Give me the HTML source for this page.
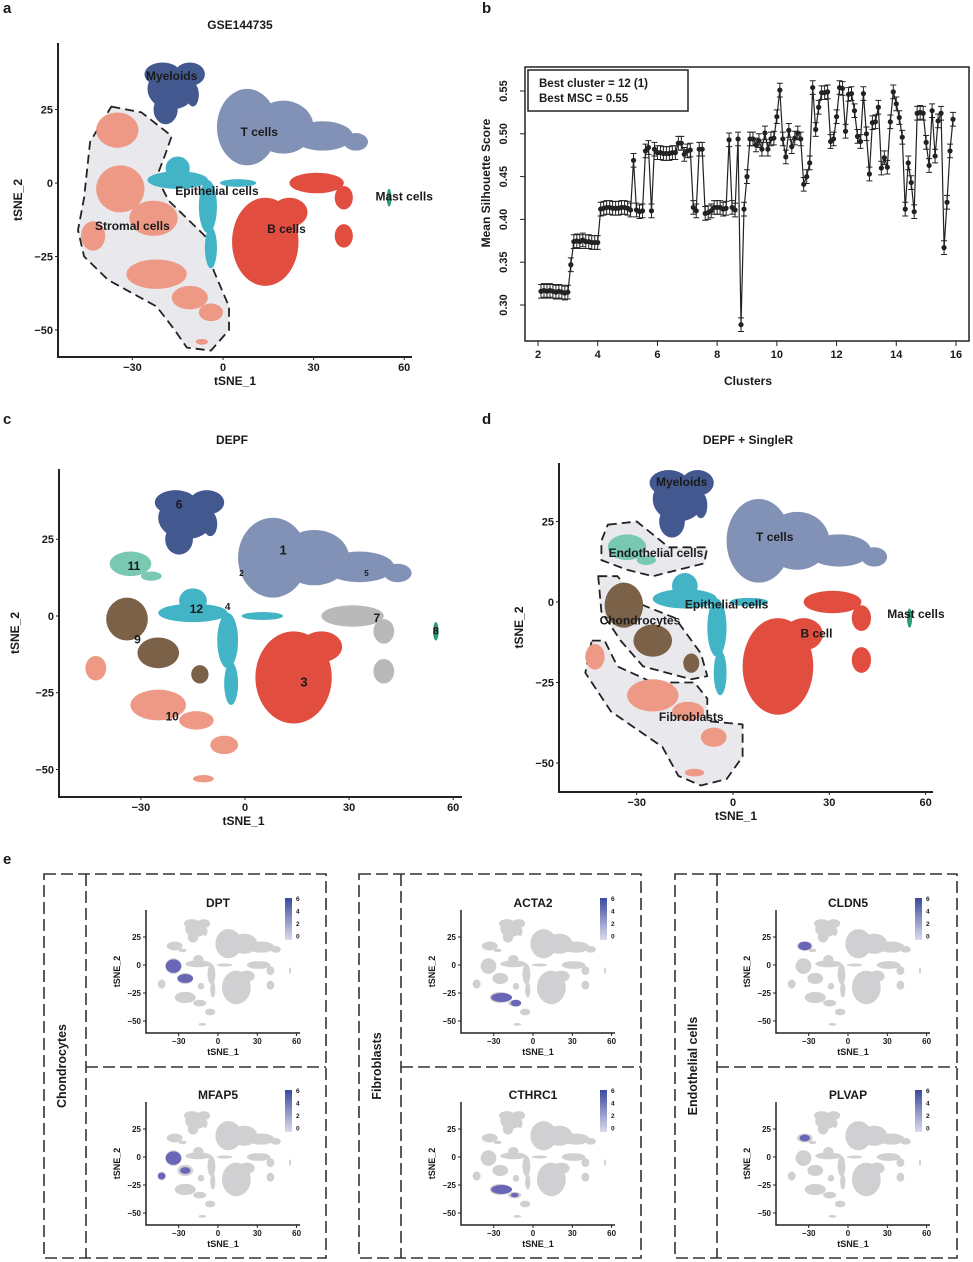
<!DOCTYPE html>
<html><head><meta charset="utf-8"><style>
html,body{margin:0;padding:0;background:#fff}
svg{display:block;font-family:"Liberation Sans",Arial,sans-serif;font-weight:bold}
</style></head><body>
<svg id="fig" width="973" height="1262" viewBox="0 0 973 1262" xmlns="http://www.w3.org/2000/svg"></svg>
<script>
// ---------- Panel b data ----------
const bClusters = [];
for (let i = 21; i <= 159; i++) bClusters.push(i / 10);
const bScores = [
0.316,0.317,0.316,0.317,0.316,0.315,0.316,0.315,0.314,0.315,0.347,0.374,0.375,0.374,0.376,0.374,0.374,0.373,0.373,0.373,
0.412,0.413,0.414,0.414,0.413,0.413,0.413,0.414,0.414,0.413,0.411,0.469,0.411,0.409,0.410,0.480,0.484,0.410,0.482,0.478,
0.478,0.477,0.477,0.477,0.478,0.478,0.489,0.489,0.476,0.480,0.481,0.414,0.410,0.482,0.482,0.407,0.408,0.410,0.414,0.414,
0.414,0.412,0.413,0.493,0.414,0.411,0.494,0.277,0.412,0.450,0.494,0.494,0.487,0.492,0.482,0.501,0.482,0.494,0.495,0.520,
0.551,0.494,0.473,0.504,0.485,0.495,0.501,0.494,0.441,0.450,0.466,0.554,0.505,0.531,0.548,0.548,0.549,0.491,0.494,0.520,
0.554,0.553,0.503,0.546,0.547,0.527,0.497,0.491,0.547,0.500,0.453,0.513,0.514,0.531,0.460,0.472,0.461,0.514,0.549,0.535,
0.519,0.496,0.412,0.466,0.443,0.409,0.524,0.525,0.524,0.490,0.463,0.527,0.474,0.515,0.524,0.367,0.420,0.480,0.517];
const bXTicks = [2,4,6,8,10,12,14,16];
const bYTicks = [0.30,0.35,0.40,0.45,0.50,0.55];

// ---------- tSNE cluster shapes (ellipses in tSNE units: cx, cy, rx, ry) ----------
const myeloidBlobs = [[-17,32,8,7],[-20,37,6,4],[-11,37,5,4],[-19,25,4,5],[-10,30,2,4]];
const tcellBlobs = [[8,19,10,13],[20,19,10,9],[33,16,10,5],[44,14,4,3]];
const epiBlobs = [[-15,1,10,3],[-15,5,4,4],[-5,-8,3,9],[-4,-22,2,7],[5,0,6,1.3]];
const bMainBlobs = [[14,-20,11,15],[22,-10,6,5]];
const bTopBlobs = [[31,0,9,3.5],[40,-5,3,4]];
const bSmallBlobs = [[40,-18,3,4]];
const mastBlobs = [[55,-5,0.8,3]];
const endoBlobs = [[-33,17,6,4],[-27,13,3,1.5]];
const chondroBlobs = [[-34,-1,6,7],[-25,-12,6,5],[-13,-19,2.5,3]];
const fibroBlobs = [[-43,-17,3,4],[-25,-29,8,5],[-14,-34,5,3],[-6,-42,4,3],[-12,-53,3,1.2]];
const stromalBlobsA = [[-35,18,7,6],[-34,-2,8,8],[-23,-12,8,6],[-43,-18,4,5],[-22,-31,10,5],[-11,-39,6,4],[-4,-44,4,3],[-7,-54,2,1]];

const COL = {my:"#42588f",t:"#8291b6",epi:"#43b4c6",b:"#e14d3e",mast:"#2c9b7a",str:"#ee9985",endo:"#79c9b2",ch:"#7b6148",gray7:"#b9b9b9",hull:"#e9e9ed"};

const svg = document.getElementById('fig');
const NS = "http://www.w3.org/2000/svg";
function mk(tag, attrs, parent){ const e=document.createElementNS(NS,tag); for(const k in attrs) e.setAttribute(k,attrs[k]); (parent||svg).appendChild(e); return e; }
function txt(x,y,s,size,parent,extra){ const e=mk('text',Object.assign({x:x,y:y,'font-size':size,'text-anchor':'middle',fill:'#1a1a1a'},extra||{}),parent); e.textContent=s; return e; }

function panelLetter(x,y,s){ const t=txt(x,y,s,15,svg,{'text-anchor':'start'});
  
   }

function tsneAxes(g, P, opt){
  const sx=v=>P.x0+v*P.kx, sy=v=>P.y0-v*P.ky;
  const ax=mk('path',{d:`M${P.left},${P.top}V${P.bottom}H${P.right}`,fill:'none',stroke:'#222','stroke-width':opt.sw||2},g);
  
  
  [-30,0,30,60].forEach(v=>{ mk('line',{x1:sx(v),x2:sx(v),y1:P.bottom,y2:P.bottom+3,stroke:'#222'},g);
    const t=txt(sx(v),P.bottom+opt.fs+3,v===-30?'\u221230':String(v),opt.fs,g);
    
     });
  [25,0,-25,-50].forEach(v=>{ mk('line',{x1:P.left-3,x2:P.left,y1:sy(v),y2:sy(v),stroke:'#222'},g);
    const t=txt(P.left-5,sy(v)+opt.fs*0.35,v<0?'\u2212'+(-v):String(v),opt.fs,g,{'text-anchor':'end'});
    
     });
  const xt=txt((P.left+P.right)/2-opt.xoff,P.bottom+opt.fs*2+6,'tSNE_1',opt.fs+1,g);
  
  
  const yx=P.left-opt.ylab, yy=(P.top+P.bottom)/2;
  const yt=txt(yx,yy,'tSNE_2',opt.fs+1,g,{transform:`rotate(-90 ${yx} ${yy})`});
  
  
}
function blobs(g,P,list,color,name){
  const grp=mk('g',{fill:color},g);
  
  
  list.forEach(b=>{ mk('ellipse',{cx:P.x0+b[0]*P.kx,cy:P.y0-b[1]*P.ky,rx:b[2]*P.kx,ry:b[3]*P.ky},grp); });
}
function hull(g,P,pts,name){
  const d='M'+pts.map(p=>(P.x0+p[0]*P.kx).toFixed(1)+','+(P.y0-p[1]*P.ky).toFixed(1)).join('L')+'Z';
  const h=mk('path',{d:d,fill:COL.hull,stroke:'#222','stroke-width':1.8,'stroke-dasharray':'9,5','stroke-linejoin':'round'},g);
  
  
}
function label(g,P,x,y,s,size,name){ const t=txt(P.x0+x*P.kx,P.y0-y*P.ky,s,size||12,g);   }

// ---------- Panel a ----------
panelLetter(3,13,'a');
(function(){
  const g=mk('g',{});  
  const P={left:58,top:43,bottom:357,right:412,x0:223,kx:3.02,y0:183,ky:2.94};
  const tt=txt(240,29,'GSE144735',12,g);  
  hull(g,P,[[-37,26],[-27,24],[-17,16],[-19,10],[-22,2],[-18,-6],[-6,-18],[-3,-30],[2,-42],[2,-50],[-4,-57],[-12,-56],[-16,-50],[-22,-42],[-38,-33],[-46,-25],[-48,-16],[-46,-5],[-44,14]],'stromal-hull');
  blobs(g,P,stromalBlobsA,COL.str,'stromal-cells-cluster');
  blobs(g,P,myeloidBlobs,COL.my,'myeloids-cluster');
  blobs(g,P,tcellBlobs,COL.t,'t-cells-cluster');
  blobs(g,P,epiBlobs,COL.epi,'epithelial-cluster');
  blobs(g,P,bMainBlobs.concat(bTopBlobs,bSmallBlobs),COL.b,'b-cells-cluster');
  blobs(g,P,mastBlobs,COL.mast,'mast-cells-cluster');
  tsneAxes(g,P,{fs:11,xoff:0,ylab:36});
  label(g,P,-17,35,'Myeloids',12,'label-myeloids');
  label(g,P,12,16,'T cells',12,'label-t-cells');
  label(g,P,-2,-4,'Epithelial cells',12,'label-epithelial');
  label(g,P,60,-6,'Mast cells',12,'label-mast');
  label(g,P,-30,-16,'Stromal cells',12,'label-stromal');
  label(g,P,21,-17,'B cells',12,'label-b-cells');
})();

// ---------- Panel b ----------
panelLetter(482,13,'b');
(function(){
  const g=mk('g',{});  
  const L=525,T=67,R=969,B=341;
  const sx=v=>538+(v-2)*(956-538)/14, sy=v=>305-(v-0.30)*(305-91)/0.25;
  const fr=mk('rect',{x:L,y:T,width:R-L,height:B-T,fill:'none',stroke:'#222','stroke-width':1.5},g);
   
  bXTicks.forEach(v=>{ mk('line',{x1:sx(v),x2:sx(v),y1:B,y2:B+5,stroke:'#222'},g);
    const t=txt(sx(v),B+17,String(v),11,g);   });
  bYTicks.forEach(v=>{ mk('line',{x1:L-5,x2:L,y1:sy(v),y2:sy(v),stroke:'#222'},g);
    const x=507,y=sy(v);
    const t=txt(x,y,v.toFixed(2),11,g,{transform:`rotate(-90 ${x} ${y})`});   });
  const xt=txt(748,385,'Clusters',12,g);  
  const yt=txt(490,183,'Mean Silhouette Score',12,g,{transform:'rotate(-90 490 183)'});  
  const ERR=0.008;
  const pts=bClusters.map((c,i)=>[sx(c),sy(bScores[i])]);
  const ln=mk('polyline',{points:pts.map(p=>p[0].toFixed(1)+','+p[1].toFixed(1)).join(' '),fill:'none',stroke:'#222','stroke-width':1.2},g);
   
  bClusters.forEach((c,i)=>{
    const x=sx(c), y1=sy(bScores[i]+ERR), y2=sy(bScores[i]-ERR);
    const eb=mk('path',{d:`M${x},${y1}V${y2}M${x-3},${y1}H${x+3}M${x-3},${y2}H${x+3}`,stroke:'#222','stroke-width':1,fill:'none'},g);
     
    const p=mk('circle',{cx:x,cy:sy(bScores[i]),r:2.6,fill:'#222'},g);
     
  });
  const lg=mk('g',{},g);  
  mk('rect',{x:528,y:70,width:160,height:41,fill:'#fff',stroke:'#222','stroke-width':1.5},lg);
  txt(539,87,'Best cluster = 12 (1)',11.5,lg,{'text-anchor':'start'});
  txt(539,102,'Best MSC = 0.55',11.5,lg,{'text-anchor':'start'});
})();

// ---------- Panel c ----------
panelLetter(3,424,'c');
(function(){
  const g=mk('g',{});  
  const P={left:59,top:469,bottom:797,right:462,x0:245,kx:3.47,y0:616,ky:3.07};
  const tt=txt(232,444,'DEPF',12,g);  
  blobs(g,P,endoBlobs,COL.endo,'cluster-11');
  blobs(g,P,chondroBlobs,COL.ch,'cluster-9');
  blobs(g,P,fibroBlobs,COL.str,'cluster-10');
  blobs(g,P,myeloidBlobs,COL.my,'cluster-6');
  blobs(g,P,tcellBlobs,COL.t,'cluster-1');
  blobs(g,P,epiBlobs,COL.epi,'cluster-12');
  blobs(g,P,bMainBlobs,COL.b,'cluster-3');
  blobs(g,P,bTopBlobs.concat(bSmallBlobs),COL.gray7,'cluster-7');
  blobs(g,P,mastBlobs,COL.mast,'cluster-8');
  tsneAxes(g,P,{fs:11,xoff:17,ylab:40});
  [[-19,35,'6',12],[11,20,'1',13],[-32,15,'11',12],[-14,1,'12',12],[-5,2,'4',10],[-1,13,'2',8],[35,13,'5',8],[38,-2,'7',12],[55,-6,'8',11],[-31,-9,'9',12],[17,-23,'3',13],[-21,-34,'10',12]]
   .forEach(l=>label(g,P,l[0],l[1],l[2],l[3],'cluster-label-'+l[2]));
})();

// ---------- Panel d ----------
panelLetter(482,424,'d');
(function(){
  const g=mk('g',{});  
  const P={left:559,top:463,bottom:792,right:933,x0:733,kx:3.21,y0:602,ky:3.22};
  const tt=txt(748,444,'DEPF + SingleR',12,g);  
  hull(g,P,[[-39,24],[-30,25],[-25,21],[-20,17],[-8,17],[-9,12],[-25,8],[-33,10],[-41,13],[-41,19]],'endothelial-hull');
  hull(g,P,[[-42,8],[-36,8],[-28,-1],[-18,-5],[-10,-16],[-8,-23],[-13,-24],[-28,-20],[-35,-12],[-41,-3]],'chondrocytes-hull');
  hull(g,P,[[-44,-12],[-40,-12],[-36,-20],[-25,-25],[-12,-25],[-8,-30],[-8,-37],[3,-38],[3,-48],[-2,-55],[-10,-57],[-17,-54],[-22,-45],[-38,-34],[-46,-22]],'fibroblasts-hull');
  blobs(g,P,endoBlobs,COL.endo,'endothelial-cluster');
  blobs(g,P,chondroBlobs,COL.ch,'chondrocytes-cluster');
  blobs(g,P,fibroBlobs,COL.str,'fibroblasts-cluster');
  blobs(g,P,myeloidBlobs,COL.my,'myeloids-cluster');
  blobs(g,P,tcellBlobs,COL.t,'t-cells-cluster');
  blobs(g,P,epiBlobs,COL.epi,'epithelial-cluster');
  blobs(g,P,bMainBlobs.concat(bTopBlobs,bSmallBlobs),COL.b,'b-cell-cluster');
  blobs(g,P,mastBlobs,COL.mast,'mast-cells-cluster');
  tsneAxes(g,P,{fs:11,xoff:10,ylab:36});
  label(g,P,-16,36,'Myeloids',12,'label-myeloids');
  label(g,P,13,19,'T cells',12,'label-t-cells');
  label(g,P,-24,14,'Endothelial cells',12,'label-endothelial');
  label(g,P,-2,-2,'Epithelial cells',12,'label-epithelial');
  label(g,P,-29,-7,'Chondrocytes',12,'label-chondrocytes');
  label(g,P,26,-11,'B cell',12,'label-b-cell');
  label(g,P,57,-5,'Mast cells',12,'label-mast');
  label(g,P,-13,-37,'Fibroblasts',12,'label-fibroblasts');
})();

// ---------- Panel e ----------
panelLetter(3,864,'e');
const eGenes = ['DPT','MFAP5','ACTA2','CTHRC1','CLDN5','PLVAP'];
const eGroups = ['Chondrocytes','Fibroblasts','Endothelial cells'];
const eHighlight = {
  DPT:[[-34,-1,6,6],[-25,-12,6,4]],
  MFAP5:[[-34,-1,6,6],[-25,-12,4,3],[-43,-17,3,3]],
  ACTA2:[[-24,-29,8,4],[-13,-34,4,3]],
  CTHRC1:[[-24,-29,8,4],[-14,-34,3,2]],
  CLDN5:[[-33,17,5,4]],
  PLVAP:[[-33,17,4,3]]
};
(function(){
  const g=mk('g',{});  
  const allGray=[].concat(myeloidBlobs,tcellBlobs,epiBlobs,bMainBlobs,bTopBlobs,bSmallBlobs,mastBlobs,endoBlobs,chondroBlobs,fibroBlobs);
  const dash={fill:'none',stroke:'#333','stroke-width':1.6,'stroke-dasharray':'12,5'};
  eGroups.forEach((grp,c)=>{
    const ox=[44,359,675][c];
    const gg=mk('g',{},g);  
    mk('rect',Object.assign({x:ox,y:874,width:282,height:384},dash),gg);
    mk('line',Object.assign({x1:ox+42,x2:ox+42,y1:874,y2:1258},dash),gg);
    mk('line',Object.assign({x1:ox+42,x2:ox+282,y1:1067,y2:1067},dash),gg);
    const lx=ox+22, ly=1066;
    const gl=txt(lx,ly,grp,12.5,gg,{transform:`rotate(-90 ${lx} ${ly})`});
     
    for(let r=0;r<2;r++){
      const gene=eGenes[c*2+r];
      const dx=c*315, dy=r*192;
      const sg=mk('g',{},gg);  
      const P={left:146+dx,top:910+dy,bottom:1033+dy,right:300+dx,x0:218+dx,kx:1.31,y0:965+dy,ky:1.12};
      blobs(sg,P,allGray,'#d0d0d2','gray-cells');
      blobs(sg,P,eHighlight[gene],'#6a66b6','expressing-cells');
      tsneAxes(sg,P,{fs:8,xoff:0,ylab:26,sw:1.5});
      const t=txt(218+dx,907+dy,gene,12,sg);  
      const cb=mk('g',{},sg);  
      const gid='gr'+gene;
      const def=mk('linearGradient',{id:gid,x1:0,y1:0,x2:0,y2:1},cb);
      mk('stop',{offset:0,'stop-color':'#3b4a9e'},def); mk('stop',{offset:1,'stop-color':'#dcdcec'},def);
      mk('rect',{x:285+dx,y:898+dy,width:7,height:42,fill:`url(#${gid})`},cb);
      ['6','4','2','0'].forEach((s,k)=>txt(296+dx,901+dy+k*12.5,s,6.5,cb,{'text-anchor':'start'}));
    }
  });
})();
</script>
</body></html>
